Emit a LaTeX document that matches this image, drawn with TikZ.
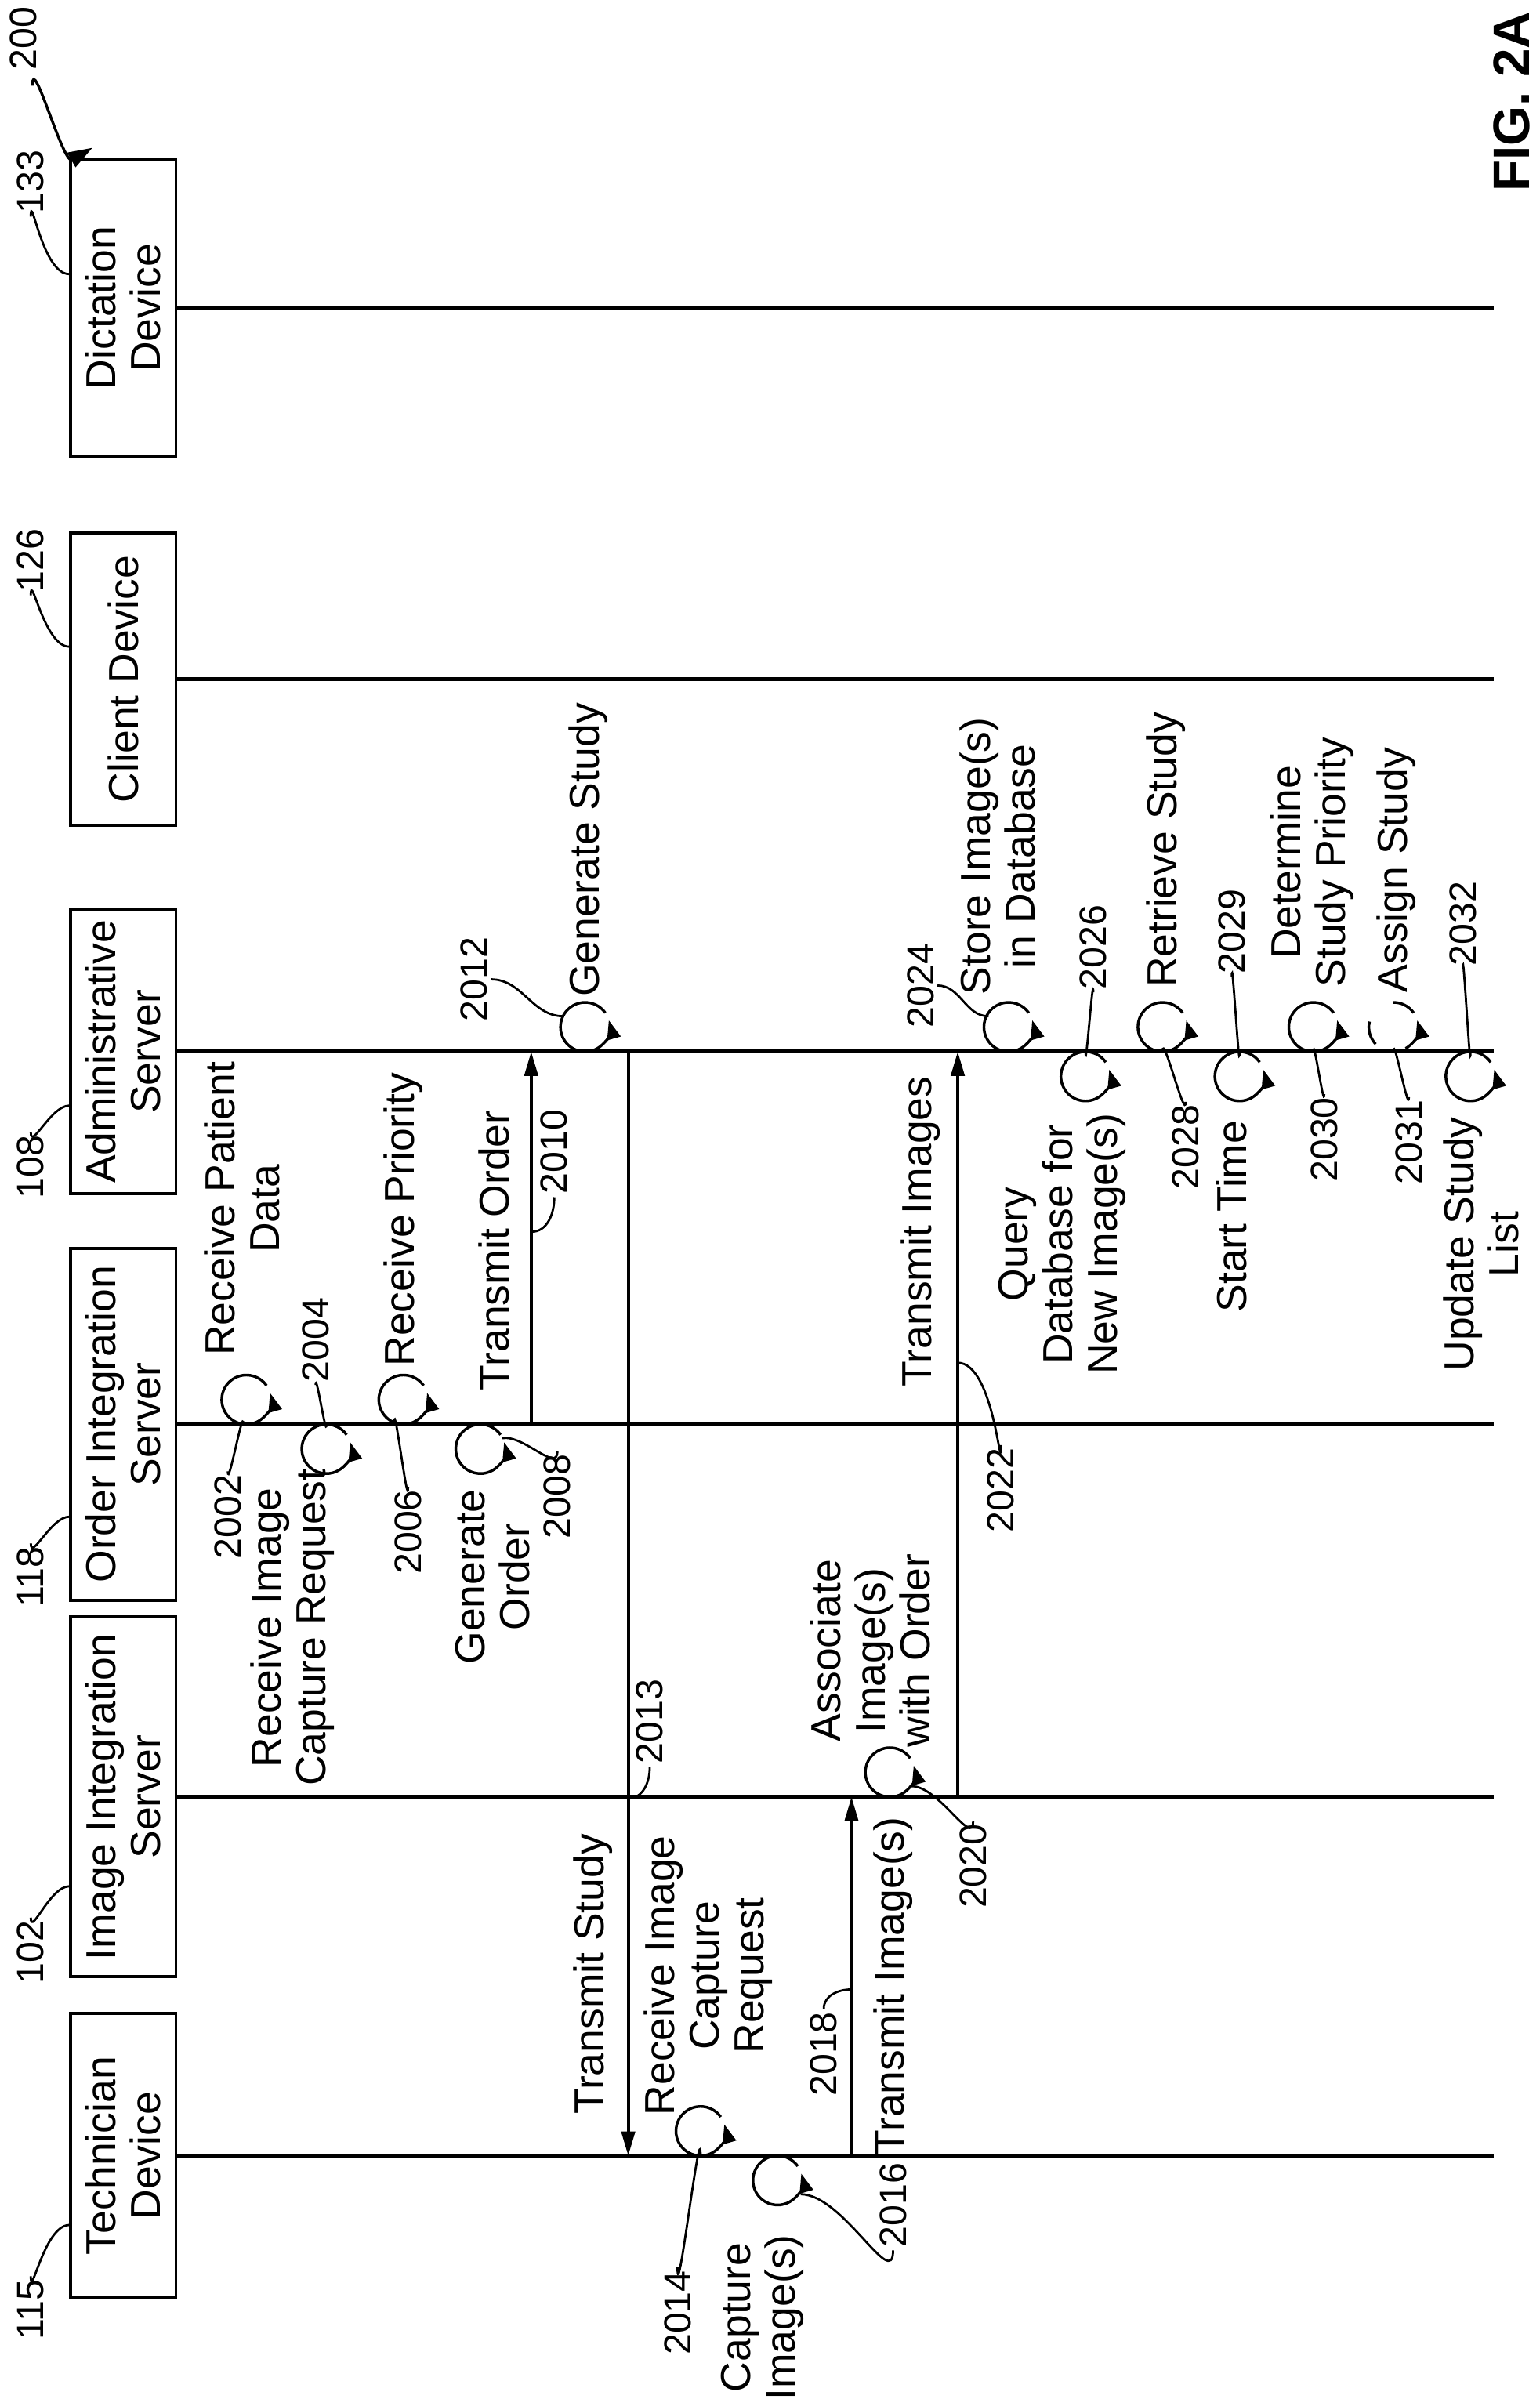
\documentclass[tikz,border=0pt]{standalone}
\usepackage{fontspec}
\setmainfont{Liberation Sans}
\usetikzlibrary{arrows.meta}
\newcommand{\looprad}{16}
% self loop on a lifeline, arrow on the right side pointing up
\newcommand{\steploop}[3][]{\draw[loopline,#1] (#2,#3) ++(-35:\looprad) arc[start angle=35, end angle=376, radius=0.32cm];}

\begin{document}
\begin{tikzpicture}[x=0.02cm, y=-0.02cm,
    every node/.style={font=\fontsize{15.5}{16.5}\selectfont, inner sep=1pt},
    box/.style={draw, line width=1.1pt, rotate=90, minimum height=39pt, align=center},
    txt/.style={rotate=90, align=center},
    num/.style={rotate=90, font=\fontsize{14}{16}\selectfont},
    life/.style={line width=1.4pt},
    msg/.style={line width=1.1pt, -{Triangle[length=9pt, width=5pt]}},
    loopline/.style={line width=1pt, -{Triangle[length=7pt, width=5pt]}},
    lead/.style={line width=0.8pt}]
        \useasboundingbox (0,0) rectangle (1000,1558);

        %boxes
        \node[box, minimum width=105pt] (tech)  at (80,1400) {Technician\\Device};
        \node[box, minimum width=133pt] (imgs)  at (80,1167) {Image Integration\\Server};
        \node[box, minimum width=130pt] (ords)  at (80, 925) {Order Integration\\Server};
        \node[box, minimum width=105pt] (adms)  at (80, 683) {Administrative\\Server};
        \node[box, minimum width=108pt] (cli)   at (80, 441) {Client Device};
        \node[box, minimum width=110pt] (dict)  at (80, 200) {Dictation\\Device};

        %lifelines
        \coordinate (techE) at (970,1400);
        \coordinate (imgsE) at (970,1167);
        \coordinate (ordsE) at (970, 925);
        \coordinate (admsE) at (970, 683);
        \coordinate (cliE)  at (970, 441);
        \coordinate (dictE) at (970, 200);
        \draw[life] (tech.south) -- (techE);
        \draw[life] (imgs.south) -- (imgsE);
        \draw[life] (ords.south) -- (ordsE);
        \draw[life] (adms.south) -- (admsE);
        \draw[life] (cli.south)  -- (cliE);
        \draw[life] (dict.south) -- (dictE);

        %reference numbers of the boxes
        \node[num] (n115) at (20,1500) {115};
        \node[num] (n102) at (20,1268) {102};
        \node[num] (n118) at (20,1024) {118};
        \node[num] (n108) at (20, 758) {108};
        \node[num] (n126) at (20, 364) {126};
        \node[num] (n133) at (20, 118) {133};
        \node[num] (n200) at (15,  25) {200};
        \draw[lead] (n115.east) to[out=-90, in=180] (45,1445);
        \draw[lead] (n102.east) to[out=-90, in=180] (45,1225);
        \draw[lead] (n118.east) to[out=-90, in=180] (45, 985);
        \draw[lead] (n108.east) to[out=-90, in=180] (45, 718);
        \draw[lead] (n126.west) to[out=90, in=180] (45, 420);
        \draw[lead] (n133.west) to[out=90, in=180] (45, 178);
        \draw[line width=1pt, -{Triangle[length=9pt, width=6pt]}] (n200.west) ++(6,8) to[out=90, in=-150] (60,96);

        \node[rotate=90, font=\bfseries\fontsize{19}{21}\selectfont] (fig) at (982,66) {FIG. 2A};

        %order integration server steps
        \steploop{160}{909}
        \node[txt] (t2002) at (157,785) {Receive Patient\\Data};
        \node[num] (n2002) at (148,985) {2002};
        \draw[lead] (158,925) to[out=90, in=-90] (n2002.east);
        \steploop{212}{941}
        \node[txt] (t2004) at (190,1057) {Receive Image\\Capture Request};
        \node[num] (n2004) at (205,870) {2004};
        \draw[lead] (n2004.west) to[out=90, in=-90] (212,925);
        \steploop{262}{909}
        \node[txt] (t2006) at (262,792) {Receive Priority};
        \node[num] (n2006) at (265,995) {2006};
        \draw[lead] (256,924) to[out=90, in=-90] (n2006.east);
        \steploop{312}{941}
        \node[txt] (t2008) at (320,1024) {Generate\\Order};
        \node[num] (n2008) at (362,972) {2008};
        \draw[lead] (326,934) to[out=10, in=-90] (n2008.east);

        %transmit order
        \coordinate (o2010) at (345,925);
        \coordinate (a2010) at (345,683);
        \draw[msg] (o2010) -- (a2010);
        \node[txt] (t2010) at (321,812) {Transmit Order};
        \node[num] (n2010) at (360,748) {2010};
        \draw[lead] (345,800) to[out=0, in=-90] (n2010.west);

        %generate study
        \steploop{380}{667}
        \node[txt] (t2012) at (382,552) {Generate Study};
        \node[num] (n2012) at (308,636) {2012};
        \draw[lead] (n2012.south) to[out=0, in=180] (366,660);

        %transmit study
        \coordinate (a2013) at (408,683);
        \coordinate (t2013e) at (408,1400);
        \draw[msg] (a2013) -- (t2013e);
        \node[txt] (t2013) at (385,1282) {Transmit Study};
        \node[num] (n2013) at (422,1118) {2013};
        \draw[lead] (408,1168) to[out=0, in=-90] (n2013.west);

        %technician device steps
        \steploop{455}{1384}
        \node[txt] (t2014) at (460,1283) {Receive Image\\Capture\\Request};
        \node[num] (n2014) at (440,1502) {2014};
        \draw[lead] (455,1400) to[out=90, in=-90] (n2014.east);
        \steploop{505}{1416}
        \node[txt] (t2016) at (495,1505) {Capture\\Image(s)};
        \node[num] (n2016) at (580,1432) {2016};
        \draw[lead] (520,1425) to[out=0, in=-90] (n2016.west);

        %transmit images to image integration server
        \coordinate (t2018) at (553,1400);
        \coordinate (i2018) at (553,1167);
        \draw[msg] (t2018) -- (i2018);
        \node[txt] (l2018) at (580,1290) {Transmit Image(s)};
        \node[num] (n2018) at (535,1334) {2018};
        \draw[lead] (n2018.east) to[out=90, in=180] (553,1292);

        %image integration server step
        \steploop{578}{1151}
        \node[txt] (t2020) at (565,1072) {Associate\\Image(s)\\with Order};
        \node[num] (n2020) at (632,1212) {2020};
        \draw[lead] (592,1160) to[out=0, in=-90] (n2020.east);

        %transmit images to administrative server
        \coordinate (i2022) at (622,1167);
        \coordinate (a2022) at (622,683);
        \draw[msg] (i2022) -- (a2022);
        \node[txt] (t2022) at (598,800) {Transmit Images};
        \node[num] (n2022) at (650,968) {2022};
        \draw[lead] (622,885) to[out=0, in=-90] (n2022.east);

        %administrative server steps
        \steploop{655}{667}
        \node[txt] (t2024) at (648,556) {Store Image(s)\\in Database};
        \node[num] (n2024) at (598,640) {2024};
        \draw[lead] (n2024.south) to[out=0, in=180] (642,660);
        \steploop{705}{699}
        \node[txt] (t2026) at (690,808) {Query\\Database for\\New Image(s)};
        \node[num] (n2026) at (710,615) {2026};
        \draw[lead] (n2026.west) to[out=90, in=-90] (705,683);
        \steploop{755}{667}
        \node[txt] (t2028) at (757,552) {Retrieve Study};
        \node[num] (n2028) at (770,745) {2028};
        \draw[lead] (755,683) to[out=90, in=-90] (n2028.east);
        \steploop{805}{699}
        \node[txt] (t2029) at (800,790) {Start Time};
        \node[num] (n2029) at (800,605) {2029};
        \draw[lead] (n2029.west) to[out=90, in=-90] (805,683);
        \steploop{853}{667}
        \node[txt] (t2030) at (852,560) {Determine\\Study Priority};
        \node[num] (n2030) at (860,740) {2030};
        \draw[lead] (853,683) to[out=90, in=-90] (n2030.east);
        \steploop[dash pattern=on 9pt off 12pt]{905}{667}
        \node[txt] (t2031) at (907,565) {Assign Study};
        \node[num] (n2031) at (915,742) {2031};
        \draw[lead] (905,683) to[out=90, in=-90] (n2031.east);
        \steploop{955}{699}
        \node[txt] (t2032) at (962,808) {Update Study\\List};
        \node[num] (n2032) at (950,600) {2032};
        \draw[lead] (n2032.west) to[out=90, in=-90] (955,683);
    \end{tikzpicture}
\end{document}
